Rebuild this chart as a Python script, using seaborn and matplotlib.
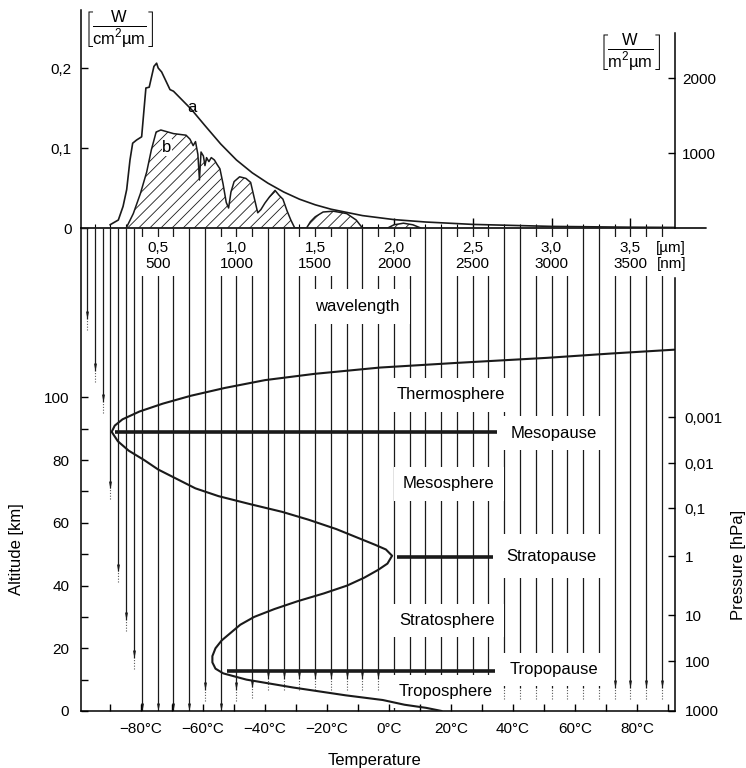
import numpy as np
import matplotlib
matplotlib.use('Agg')
import matplotlib.pyplot as plt
from matplotlib.path import Path
from matplotlib.ticker import FixedLocator, MultipleLocator
import seaborn as sns

# -----------------------------
# data
# -----------------------------
# solar irradiance outside the atmosphere (curve a), W/(cm^2 um)
wl_a = [0.197, 0.25, 0.28, 0.303, 0.324, 0.341, 0.366, 0.398, 0.413, 0.425,
        0.446, 0.461, 0.476, 0.493, 0.503, 0.525, 0.578, 0.60, 0.715, 0.80,
        0.90, 1.00, 1.10, 1.20, 1.30, 1.40, 1.50, 1.60, 1.80, 2.00,
        2.20, 2.50, 3.00, 3.50, 3.78]
irr_a = [0.004, 0.01, 0.027, 0.048, 0.085, 0.106, 0.11, 0.114, 0.148, 0.175,
         0.176, 0.189, 0.202, 0.206, 0.2, 0.195, 0.173, 0.171, 0.148, 0.128,
         0.105, 0.085, 0.069, 0.056, 0.045, 0.036, 0.029, 0.0235, 0.0155, 0.0105,
         0.0075, 0.0045, 0.002, 0.001, 0.0007]

# at sea level (curve b, hatched)
wl_b = [0.30, 0.345, 0.39, 0.43, 0.46, 0.49, 0.52, 0.60, 0.68, 0.705,
        0.725, 0.74, 0.755, 0.765, 0.775, 0.79, 0.80, 0.81, 0.825, 0.84,
        0.86, 0.875, 0.895, 0.915, 0.935, 0.95, 0.965, 0.985, 1.02, 1.06,
        1.09, 1.11, 1.135, 1.155, 1.18, 1.21, 1.245, 1.27, 1.295, 1.32,
        1.345, 1.37, 1.445, 1.47, 1.50, 1.55, 1.615, 1.70, 1.76, 1.80,
        1.96, 2.00, 2.06, 2.12, 2.17]
irr_b = [0, 0.018, 0.043, 0.07, 0.098, 0.12, 0.1225, 0.118, 0.116, 0.111,
         0.103, 0.108, 0.092, 0.06, 0.095, 0.09, 0.078, 0.088, 0.083, 0.088,
         0.085, 0.08, 0.074, 0.055, 0.032, 0.025, 0.045, 0.058, 0.064, 0.062,
         0.057, 0.04, 0.019, 0.023, 0.031, 0.039, 0.047, 0.041, 0.036, 0.022,
         0.01, 0, 0, 0.008, 0.014, 0.02, 0.021, 0.018, 0.01, 0,
         0, 0.004, 0.006, 0.004, 0]

# temperature profile
alt_km = [0, 1, 2, 3.5, 5, 7.5, 10, 12, 13.5, 15.5, 17.5, 20, 22.5, 25, 27.5,
          30, 32.5, 35, 37.5, 40, 42.5, 45, 47, 49.5, 51.5, 53, 55, 58, 61,
          63.5, 66, 68.5, 71, 74, 77, 80, 83, 86, 89, 91, 93, 95.5, 98, 100.5,
          103, 105.5, 107.5, 109.5, 111, 112.6, 114, 115.2]
temp_c = [17, 12, 5, -2, -14, -31, -46, -53.5, -56, -57, -57, -56, -54, -51, -48,
          -43.5, -37, -29.5, -21, -13.5, -8, -3.5, -0.5, 1, -1, -4.5, -9.5, -17, -26,
          -34.5, -45, -55, -62.5, -68.5, -74.5, -79, -84, -87.5, -89.5, -88.5, -86, -80.5, -73, -64,
          -53, -40, -24, -3, 22, 51, 72, 92]

# penetration depth of radiation per wavelength
line_wl = [0.05, 0.10, 0.15, 0.20, 0.25, 0.30, 0.35, 0.40, 0.50, 0.60,
           0.70, 0.80, 0.90, 1.00, 1.10, 1.20, 1.30, 1.40, 1.50, 1.60,
           1.70, 1.80, 1.90, 2.00, 2.10, 2.20, 2.30, 2.40, 2.50, 2.60,
           2.70, 2.80, 2.90, 3.00, 3.10, 3.20, 3.30, 3.40, 3.50, 3.60, 3.70]
line_end_km = [125, 108.5, 98.5, 71, 44.5, 29, 17, 0, 0, 0,
               0, 6.7, 0, 6.7, 7.5, 10.3, 10.3, 10.3, 10.3, 10.3,
               10.3, 10.3, 10.3, 0, 7.3, 7.3, 7.3, 7.3, 7.3, 7.3,
               7.3, 7.3, 7.3, 7.3, 7.3, 7.3, 7.3, 7.3, 7.3, 7.3, 7.3]

# pauses
pause_names = ['Mesopause', 'Stratopause', 'Tropopause']
pause_alt = [88.8, 49.2, 12.8]
pause_t0 = [-88.4, 2.6, -52.3]
pause_t1 = [34.8, 33.5, 34.2]

# ticks
wl_ticks = [0.5, 1.0, 1.5, 2.0, 2.5, 3.0, 3.5]
wl_um_labels = ['0,5', '1,0', '1,5', '2,0', '2,5', '3,0', '3,5']
wl_nm_labels = ['500', '1000', '1500', '2000', '2500', '3000', '3500']
irr_ticks = [0, 0.1, 0.2]
irr_labels = ['0', '0,1', '0,2']
irr_m_ticks = [1000, 2000]
temp_ticks = [-80, -60, -40, -20, 0, 20, 40, 60, 80]
alt_ticks = [0, 20, 40, 60, 80, 100]
press_alt = [93.6, 79.0, 64.6, 49.4, 30.6, 15.9, 0]
press_labels = ['0,001', '0,01', '0,1', '1', '10', '100', '1000']

# -----------------------------
# style
# -----------------------------
sns.set_theme(style='ticks', rc={'text.color': 'black', 'axes.labelcolor': 'black',
                                 'axes.edgecolor': 'black', 'xtick.color': 'black',
                                 'ytick.color': 'black'})
plt.rcParams['font.family'] = ['Liberation Sans', 'DejaVu Sans']
plt.rcParams['mathtext.fontset'] = 'custom'
plt.rcParams['mathtext.rm'] = 'Liberation Sans'
plt.rcParams['mathtext.it'] = 'Liberation Sans:italic'
plt.rcParams['hatch.linewidth'] = 0.6
plt.rcParams['axes.linewidth'] = 1.1
TS = 11   # tick labels
LS = 12   # labels

W, H = 746, 768
fig = plt.figure(figsize=(W / 100, H / 100), dpi=100)


def rect(x0, y0, x1, y1):
    return [x0 / W, 1 - y1 / H, (x1 - x0) / W, (y1 - y0) / H]


ax_top = fig.add_axes(rect(81, 10, 675, 228))
ax_w = fig.add_axes(rect(81, 228, 675, 711))
ax_low = fig.add_axes(rect(81, 228, 675, 711))
ax_w.set_zorder(1)
ax_low.set_zorder(2)
ax_low.patch.set_visible(False)
ax_top.set_zorder(4)
ax_top.patch.set_visible(False)

WL_LIM = (0.013, 3.784)
ALT_LIM = (0, 154)
T_LIM = (-99.4, 92.3)

# -----------------------------
# top: solar spectrum
# -----------------------------
ax_top.fill_between(wl_b, irr_b, 0, facecolor='white', edgecolor='k', hatch='///', lw=0)
sns.lineplot(x=wl_b, y=irr_b, sort=False, estimator=None, color='k', lw=1.1, ax=ax_top)
sns.lineplot(x=wl_a, y=irr_a, sort=False, estimator=None, color='k', lw=1.2, ax=ax_top)
ax_top.axhline(0, xmin=0, xmax=1.053, color='k', lw=1.3, clip_on=False)
ax_top.text(0.717, 0.151, 'a', fontsize=LS, ha='center', va='center')
ax_top.text(0.559, 0.101, 'b', fontsize=LS, ha='center', va='center',
            bbox=dict(boxstyle='square,pad=0.05', fc='white', ec='none'))

ax_top.set_xlim(WL_LIM)
ax_top.set_ylim(0, 0.2725)
ax_top.set_xticks(wl_ticks)
ax_top.set_xticklabels([])
ax_top.xaxis.set_minor_locator(MultipleLocator(0.1))
ax_top.tick_params(axis='x', which='major', direction='in', length=7, width=1, bottom=True)
ax_top.tick_params(axis='x', which='minor', direction='in', length=3, width=0.8, bottom=True)
ax_top.set_yticks(irr_ticks)
ax_top.set_yticklabels(irr_labels, fontsize=TS)
ax_top.tick_params(axis='y', direction='in', length=5, width=1, pad=6.5)
for s in ['top', 'right', 'bottom']:
    ax_top.spines[s].set_visible(False)
ax_top.set_xlabel('')
ax_top.set_ylabel('')

ax_top_r = ax_top.twinx()
ax_top_r.set_zorder(4)
ax_top_r.set_ylim(0, 2907)
ax_top_r.set_yticks(irr_m_ticks)
ax_top_r.set_yticklabels([str(t) for t in irr_m_ticks], fontsize=TS)
ax_top_r.tick_params(axis='y', direction='in', length=5, width=1, pad=5)
for s in ['top', 'left', 'bottom']:
    ax_top_r.spines[s].set_visible(False)
ax_top_r.spines['right'].set_bounds(0, 2600)

fig.text(119 / W, 1 - 29 / H, r'$\left[\frac{\mathrm{W}}{\mathrm{cm^2µm}}\right]$',
         fontsize=17, ha='center', va='center', zorder=10)
fig.text(630 / W, 1 - 52 / H, r'$\left[\frac{\mathrm{W}}{\mathrm{m^2µm}}\right]$',
         fontsize=17, ha='center', va='center', zorder=10)

# -----------------------------
# lower: radiation lines (wavelength x-scale)
# -----------------------------
ends = np.array(line_end_km, dtype=float)
wls = np.array(line_wl)
ax_w.vlines(wls, ends, ALT_LIM[1], color='k', lw=0.9, zorder=1)
arrow = Path([(-0.38, 1), (0.38, 1), (0, -1), (-0.38, 1)],
             [Path.MOVETO, Path.LINETO, Path.LINETO, Path.CLOSEPOLY])
ax_w.scatter(wls, ends + 1.2, marker=arrow, s=32, color='k', lw=0, zorder=2)
mid = ends > 0
ax_w.vlines(wls[mid], ends[mid] - 3.5, ends[mid], color='0.35', lw=0.8,
            linestyles=(0, (1, 1.5)), zorder=1)

for w, um, nm in zip(wl_ticks, wl_um_labels, wl_nm_labels):
    ax_w.text(w, 145, f'{um}\n{nm}', fontsize=TS, ha='center', va='center',
              linespacing=1.15, zorder=5,
              bbox=dict(boxstyle='square,pad=0.3', fc='white', ec='none'))
ax_w.text(3.76, 145, '[µm]\n[nm]', fontsize=TS, ha='center', va='center',
          linespacing=1.15, zorder=5,
          bbox=dict(boxstyle='square,pad=0.3', fc='white', ec='none'))
ax_w.text(1.77, 128.9, 'wavelength', fontsize=LS, ha='center', va='center', zorder=5,
          bbox=dict(boxstyle='square,pad=0.6', fc='white', ec='none'))
ax_w.set_xlim(WL_LIM)
ax_w.set_ylim(ALT_LIM)
ax_w.axis('off')

# -----------------------------
# lower: temperature profile
# -----------------------------
sns.lineplot(x=temp_c, y=alt_km, sort=False, estimator=None, color='k', lw=1.5,
             ax=ax_low, zorder=6)
ax_low.hlines(pause_alt, pause_t0, pause_t1, color='k', lw=2.6, zorder=6)

box = dict(boxstyle='square,pad=0.55', fc='white', ec='none')
layer_text = [('Thermosphere', 20.0, 100.8), ('Mesosphere', 19.3, 72.4),
              ('Stratosphere', 18.6, 28.8), ('Troposphere', 18.4, 6.2)]
for name, t, z in layer_text:
    ax_low.text(t, z, name, fontsize=LS, ha='center', va='center', zorder=2, bbox=box)
pause_text_t = [39.3, 38.0, 38.8]
pause_text_z = [88.6, 49.4, 13.3]
pause_pad = [0.55, 0.85, 0.55]
for name, t, z, p in zip(pause_names, pause_text_t, pause_text_z, pause_pad):
    ax_low.text(t, z, name, fontsize=LS, ha='left', va='center', zorder=2,
                bbox=dict(boxstyle=f'square,pad={p}', fc='white', ec='none'))

ax_low.set_xlim(T_LIM)
ax_low.set_ylim(ALT_LIM)
ax_low.set_axisbelow(False)
ax_low.set_xticks(temp_ticks)
ax_low.set_xticklabels([f'{t}°C'.replace('-', '\u2212') for t in temp_ticks], fontsize=TS)
ax_low.xaxis.set_minor_locator(FixedLocator(list(range(-90, 91, 10))))
ax_low.set_yticks(alt_ticks)
ax_low.set_yticklabels([str(a) for a in alt_ticks], fontsize=TS)
ax_low.yaxis.set_minor_locator(FixedLocator([10, 30, 50, 70, 90]))
ax_low.tick_params(axis='both', which='major', direction='in', length=5, width=1)
ax_low.tick_params(axis='both', which='minor', direction='in', length=5, width=1)
ax_low.tick_params(axis='x', which='major', pad=8)
ax_low.tick_params(axis='y', which='major', pad=8.5)
ax_low.spines['top'].set_visible(False)
ax_low.spines['right'].set_visible(False)
ax_low.set_xlabel('')
ax_low.set_ylabel('')

ax_p = ax_low.twinx()
ax_p.set_zorder(3)
ax_p.set_ylim(ALT_LIM)
ax_p.set_yticks(press_alt)
ax_p.set_yticklabels(press_labels, fontsize=TS)
ax_p.tick_params(axis='y', direction='in', length=5, width=1, pad=7)
for s in ['top', 'left', 'bottom']:
    ax_p.spines[s].set_visible(False)
ax_p.spines['right'].set_bounds(0, 138)

fig.text(17 / W, 1 - 549 / H, 'Altitude [km]', rotation=90, fontsize=LS,
         ha='center', va='center')
fig.text(738 / W, 1 - 565 / H, 'Pressure [hPa]', rotation=90, fontsize=LS,
         ha='center', va='center')
fig.text(375 / W, 1 - 761 / H, 'Temperature', fontsize=LS, ha='center', va='center')

fig.savefig('out.png', dpi=100)
